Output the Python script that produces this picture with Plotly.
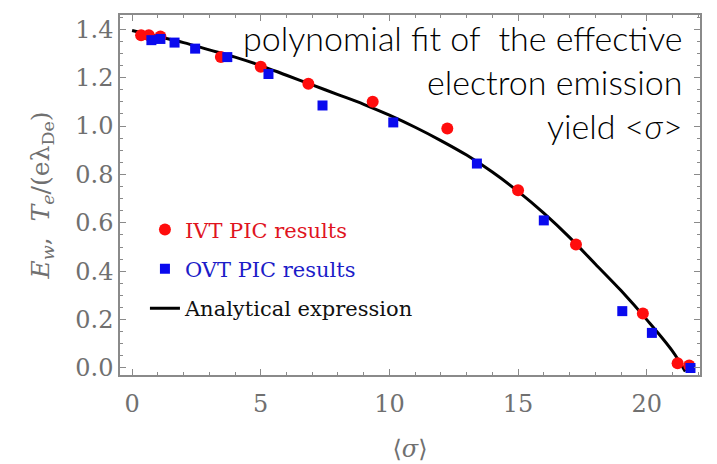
import plotly.graph_objects as go

# IVT PIC results (red circles)
ivt_x = [0.35, 0.65, 1.1, 3.45, 5.0, 6.85, 9.35, 12.25, 15.0, 17.25, 19.85, 21.2, 21.65]
ivt_y = [1.375, 1.375, 1.37, 1.285, 1.245, 1.175, 1.10, 0.99, 0.735, 0.51, 0.225, 0.02, 0.01]

# OVT PIC results (blue squares)
ovt_x = [0.75, 1.1, 1.65, 2.45, 3.7, 5.3, 7.4, 10.15, 13.4, 16.0, 19.05, 20.2, 21.7]
ovt_y = [1.355, 1.36, 1.345, 1.32, 1.285, 1.215, 1.085, 1.015, 0.845, 0.61, 0.235, 0.145, 0.0]

# Analytical expression (black curve)
ana_x = [0, 1, 2, 3, 4, 5, 6, 7, 8, 9, 10, 11, 12, 13, 14, 15, 16, 17, 18, 19, 20, 21, 21.5]
ana_y = [1.395, 1.37, 1.345, 1.315, 1.285, 1.25, 1.21, 1.17, 1.13, 1.09, 1.045, 0.995, 0.94,
         0.88, 0.81, 0.73, 0.64, 0.54, 0.43, 0.32, 0.20, 0.07, -0.015]

x_ticks = [0, 5, 10, 15, 20]
y_ticks = [0.0, 0.2, 0.4, 0.6, 0.8, 1.0, 1.2, 1.4]

SERIF = "DejaVu Serif"
GRAY = "#707070"
AXIS = "#8a8a8a"

fig = go.Figure()
fig.add_trace(go.Scatter(
    x=ana_x, y=ana_y, mode="lines", line=dict(color="black", width=3, shape="spline"),
    name="<span style='color:#111111'>Analytical expression</span>", legendgroup="c", legendrank=3))
fig.add_trace(go.Scatter(
    x=ivt_x, y=ivt_y, mode="markers",
    marker=dict(symbol="circle", size=12, color="#ff0d0d"),
    name="<span style='color:#e0141e'>IVT PIC results</span>", legendgroup="a", legendrank=1))
fig.add_trace(go.Scatter(
    x=ovt_x, y=ovt_y, mode="markers",
    marker=dict(symbol="square", size=10, color="#0a0aee"),
    name="<span style='color:#1c1cc8'>OVT PIC results</span>", legendgroup="b", legendrank=2))

axis_common = dict(
    showline=True, linecolor=AXIS, linewidth=1.5, mirror="allticks",
    ticks="inside", ticklen=6, tickcolor=AXIS, tickwidth=1,
    showgrid=False, zeroline=False,
    tickfont=dict(family=SERIF, size=24, color=GRAY),
)

fig.update_xaxes(
    range=[-0.47, 22.07], tickvals=x_ticks, ticktext=[str(v) for v in x_ticks],
    minor=dict(dtick=1, ticks="inside", ticklen=3, tickcolor=AXIS, showgrid=False),
    ticklabelstandoff=6,
    title=dict(text="⟨<i>σ</i>⟩", font=dict(family=SERIF, size=24, color=GRAY), standoff=24),
    **axis_common)
fig.update_yaxes(
    range=[-0.029, 1.459], tickvals=y_ticks, ticktext=[f"{v:.1f}" for v in y_ticks],
    minor=dict(dtick=0.05, ticks="inside", ticklen=3, tickcolor=AXIS, showgrid=False),
    title=dict(text="<i>E<sub>w</sub></i>,  <i>T<sub>e</sub></i>/(eλ<sub>De</sub>)",
               font=dict(family=SERIF, size=25, color=GRAY), standoff=19),
    **axis_common)

fig.add_annotation(
    xref="paper", yref="paper", x=0.974, y=1.0, xanchor="right", yanchor="top",
    align="right", showarrow=False,
    text="polynomial fit of  the effective<br>electron emission<br>yield &lt;<i>σ</i>&gt;",
    font=dict(family="Lato", size=34, color="#000000", weight=300),
)

fig.update_layout(
    width=717, height=464,
    margin=dict(l=120, r=17, t=15, b=89, autoexpand=False),
    paper_bgcolor="white", plot_bgcolor="white",
    showlegend=True,
    legend=dict(
        x=0.043, y=0.46, xanchor="left", yanchor="top",
        bgcolor="rgba(0,0,0,0)", font=dict(family=SERIF, size=21),
        traceorder="grouped", tracegroupgap=9, itemwidth=30,
    ),
)

fig.write_html("out.html")
